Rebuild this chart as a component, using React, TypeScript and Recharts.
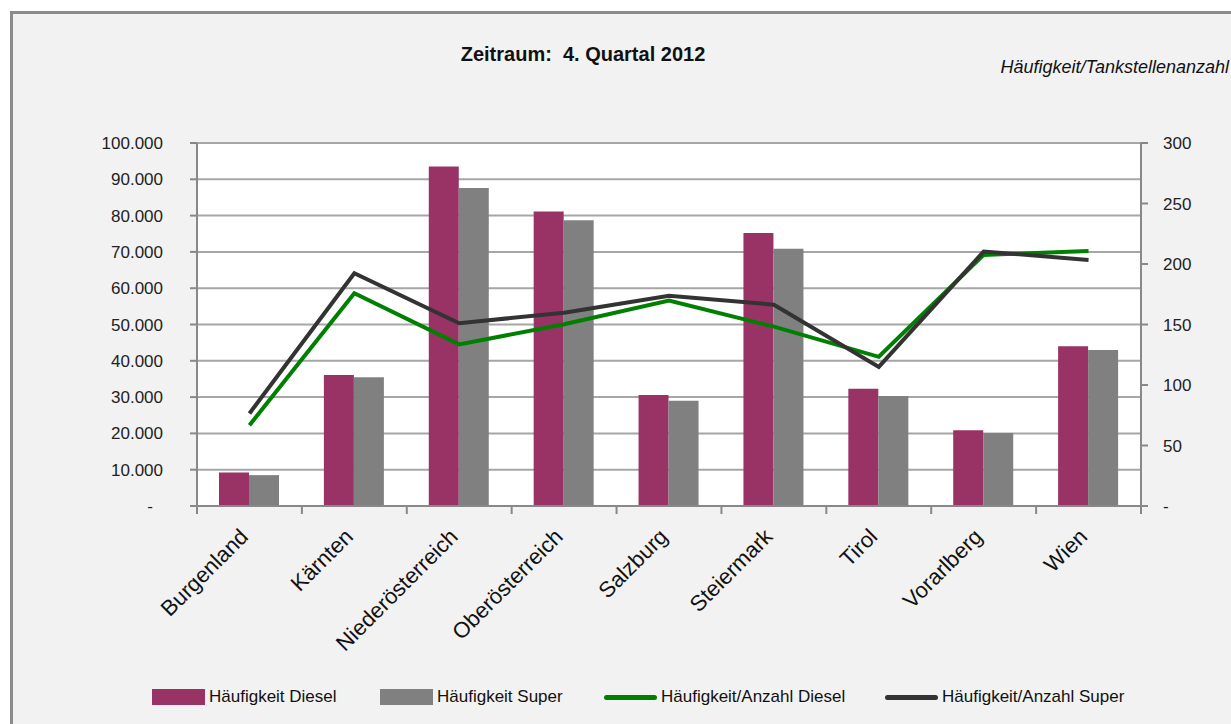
import { ComposedChart, Bar, Line, XAxis, YAxis, CartesianGrid } from "recharts"

const regions = ["Burgenland", "Kärnten", "Niederösterreich", "Oberösterreich", "Salzburg", "Steiermark", "Tirol", "Vorarlberg", "Wien"]
const dieselCount = [9200, 36100, 93500, 81100, 30600, 75200, 32300, 20900, 44000]
const superCount = [8500, 35500, 87600, 78700, 29000, 70900, 30300, 20100, 43000]
const dieselPerStation = [66.8, 175.8, 133.6, 150.2, 169.7, 148.2, 123.3, 207.5, 210.8]
const superPerStation = [76.5, 192.4, 151, 159.8, 173.8, 166.4, 115, 210.3, 203.4]
const leftTicks = [0, 10000, 20000, 30000, 40000, 50000, 60000, 70000, 80000, 90000, 100000]
const rightTicks = [0, 50, 100, 150, 200, 250, 300]

const legendItems = [
    { label: "Häufigkeit Diesel", color: "#993366", kind: "bar", left: 152 },
    { label: "Häufigkeit Super", color: "#808080", kind: "bar", left: 380 },
    { label: "Häufigkeit/Anzahl Diesel", color: "#008000", kind: "line", left: 604 },
    { label: "Häufigkeit/Anzahl Super", color: "#333333", kind: "line", left: 885 },
]

const data = regions.map((region, i) => ({
    region,
    diesel: dieselCount[i],
    super: superCount[i],
    dieselRatio: dieselPerStation[i],
    superRatio: superPerStation[i],
}))

const narrow = "'Liberation Sans Narrow', 'Liberation Sans', Arial, sans-serif"
const sans = "'Liberation Sans', Arial, sans-serif"
const bandWidth = 944 / regions.length

const fmt = (v: number) => (v === 0 ? "-" : String(v).replace(/\B(?=(\d{3})+(?!\d))/g, "."))

function LeftTick({ x, y, payload }: any) {
    const v = payload.value
    return (
        <text x={v === 0 ? x - 10 : x} y={y} dy={6} textAnchor="end" fontSize={17} fontFamily={sans} fill="#222">
            {fmt(v)}
        </text>
    )
}

function RightTick({ x, y, payload }: any) {
    return (
        <text x={x} y={y} dy={6} textAnchor="start" fontSize={17} fontFamily={sans} fill="#222">
            {fmt(payload.value)}
        </text>
    )
}

function RegionTick({ x, y, payload, index }: any) {
    const half = bandWidth / 2
    const ty = y + 24
    return (
        <g>
            <line x1={x - half} y1={y - 8} x2={x - half} y2={y} stroke="#888" strokeWidth={2} />
            {index === regions.length - 1 && (
                <line x1={x + half} y1={y - 8} x2={x + half} y2={y} stroke="#888" strokeWidth={2} />
            )}
            <text
                x={x}
                y={ty}
                textAnchor="end"
                fontSize={22}
                fontFamily={sans}
                fill="#111"
                transform={`rotate(-45, ${x}, ${ty})`}
            >
                {payload.value}
            </text>
        </g>
    )
}

export default function App() {
    return (
        <div style={{ position: "absolute", left: 0, top: 0, width: 1231, height: 724, background: "#fff", overflow: "hidden" }}>
            <div
                style={{
                    position: "absolute",
                    left: 10,
                    top: 11,
                    width: 1240,
                    height: 740,
                    background: "#f2f2f2",
                    borderLeft: "3px solid #8c8c8c",
                    borderTop: "3px solid #8c8c8c",
                }}
            />
            <div
                style={{
                    position: "absolute",
                    left: 383,
                    width: 400,
                    top: 43,
                    textAlign: "center",
                    fontFamily: narrow,
                    fontWeight: "bold",
                    fontSize: 20,
                    whiteSpace: "pre",
                    color: "#111",
                }}
            >
                {"Zeitraum:  4. Quartal 2012"}
            </div>
            <div
                style={{
                    position: "absolute",
                    right: 2,
                    top: 57,
                    fontFamily: narrow,
                    fontStyle: "italic",
                    fontSize: 18,
                    color: "#111",
                }}
            >
                Häufigkeit/Tankstellenanzahl
            </div>
            <div style={{ position: "absolute", left: 0, top: 0 }}>
                <ComposedChart width={1231} height={724} data={data} margin={{ top: 143, right: 0, left: 107, bottom: 68 }} barGap={0}>
                    <CartesianGrid yAxisId="left" vertical={false} stroke="#a6a6a6" strokeWidth={2} fill="#fff" />
                    <XAxis
                        dataKey="region"
                        interval={0}
                        height={150}
                        tickLine={false}
                        axisLine={{ stroke: "#888", strokeWidth: 2 }}
                        tick={<RegionTick />}
                    />
                    <YAxis
                        yAxisId="left"
                        domain={[0, 100000]}
                        ticks={leftTicks}
                        width={90}
                        tickSize={7}
                        tickMargin={27}
                        axisLine={{ stroke: "#888", strokeWidth: 2 }}
                        tickLine={{ stroke: "#888", strokeWidth: 2 }}
                        tick={<LeftTick />}
                    />
                    <YAxis
                        yAxisId="right"
                        orientation="right"
                        domain={[0, 300]}
                        ticks={rightTicks}
                        width={90}
                        tickSize={7}
                        tickMargin={15}
                        axisLine={{ stroke: "#888", strokeWidth: 2 }}
                        tickLine={{ stroke: "#888", strokeWidth: 2 }}
                        tick={<RightTick />}
                    />
                    <Bar yAxisId="left" dataKey="diesel" fill="#993366" barSize={30} isAnimationActive={false} />
                    <Bar yAxisId="left" dataKey="super" fill="#808080" barSize={30} isAnimationActive={false} />
                    <Line yAxisId="right" dataKey="dieselRatio" stroke="#008000" strokeWidth={4} dot={false} type="linear" isAnimationActive={false} />
                    <Line yAxisId="right" dataKey="superRatio" stroke="#333333" strokeWidth={4} dot={false} type="linear" isAnimationActive={false} />
                </ComposedChart>
            </div>
            {legendItems.map((item) => (
                <div
                    key={item.label}
                    style={{ position: "absolute", left: item.left, top: 686, display: "flex", alignItems: "center", height: 22 }}
                >
                    {item.kind === "bar" ? (
                        <div style={{ width: 53, height: 16, background: item.color }} />
                    ) : (
                        <div style={{ width: 53, height: 5, borderRadius: 3, background: item.color }} />
                    )}
                    <span style={{ marginLeft: 4, fontFamily: narrow, fontSize: 17, color: "#111" }}>{item.label}</span>
                </div>
            ))}
        </div>
    )
}
